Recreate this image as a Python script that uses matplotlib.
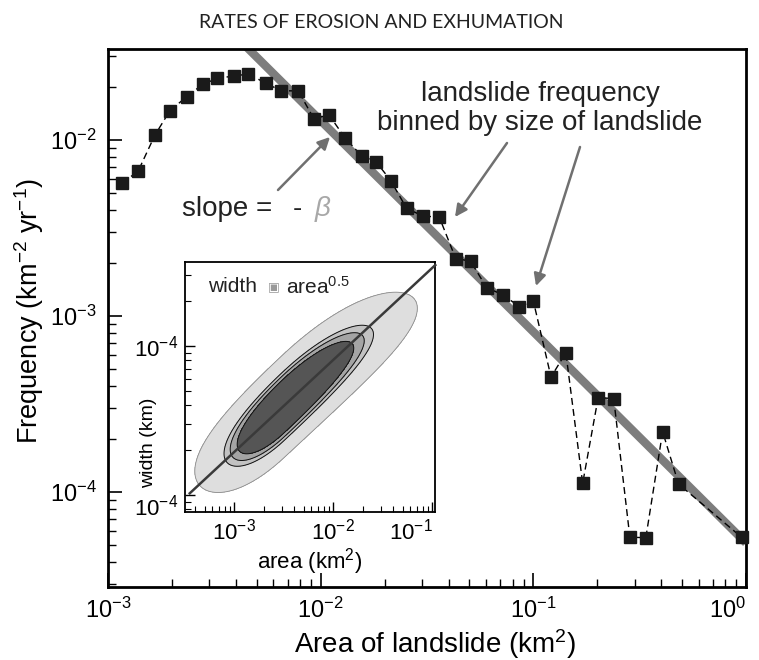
import numpy as np
import matplotlib
matplotlib.use("Agg")
from matplotlib import pyplot as plt
from matplotlib.ticker import FixedLocator, LogLocator, NullFormatter

plt.rcParams['font.family'] = ['Liberation Sans', 'DejaVu Sans']
plt.rcParams['mathtext.fontset'] = 'custom'
plt.rcParams['mathtext.rm'] = 'Liberation Sans'
plt.rcParams['mathtext.it'] = 'Liberation Sans:italic'
plt.rcParams['mathtext.bf'] = 'Liberation Sans:bold'

# landslide frequency binned by landslide area
area = [1.167e-3, 1.387e-3, 1.663e-3, 1.954e-3, 2.344e-3, 2.786e-3, 3.266e-3,
        3.908e-3, 4.571e-3, 5.534e-3, 6.501e-3, 7.852e-3, 9.290e-3, 1.094e-2,
        1.300e-2, 1.560e-2, 1.820e-2, 2.138e-2, 2.535e-2, 3.020e-2, 3.614e-2,
        4.315e-2, 5.070e-2, 6.026e-2, 7.228e-2, 8.590e-2, 0.1000, 0.1211,
        0.1422, 0.1706, 0.2018, 0.2388, 0.2844, 0.3381, 0.4055, 0.4819, 0.9528]
frequency = [5.68e-3, 6.67e-3, 1.067e-2, 1.466e-2, 1.762e-2, 2.07e-2, 2.24e-2,
             2.31e-2, 2.37e-2, 2.10e-2, 1.905e-2, 1.90e-2, 1.32e-2, 1.39e-2,
             1.03e-2, 8.11e-3, 7.53e-3, 5.87e-3, 4.09e-3, 3.70e-3, 3.64e-3,
             2.12e-3, 2.05e-3, 1.45e-3, 1.315e-3, 1.13e-3, 1.217e-3, 4.50e-4,
             6.18e-4, 1.12e-4, 3.44e-4, 3.39e-4, 5.53e-5, 5.50e-5, 2.20e-4,
             1.11e-4, 5.53e-5]

# power law fit  F = coef * A^-beta
fit_beta = 1.2
fit_coef = 5.13e-5
fit_area = [4.0e-3, 1.0]

# inset: width vs area, fitted line and density blob (log10 units)
inset_k = 0.617
inset_w0 = 1.38
blob_center = -2.5          # log10 area of blob centre
blob_bend_left = 0.145      # blob sits above the line at small areas
blob_bend_right = 0.098     # and below it at large areas
blob_sig_left = 0.40
blob_sig_right = 0.60
blob_sig_width = 0.155
blob_levels = [0.08, 0.32, 0.40, 0.50, 1.01]
blob_colors = ['#dedede', '#c2c2c2', '#a4a4a4', '#555555']

main_xticks = [1e-3, 1e-2, 1e-1, 1e0]
main_xlabels = ['$10^{-3}$', '$10^{-2}$', '$10^{-1}$', '$10^{0}$']
main_yticks = [1e-4, 1e-3, 1e-2]
main_ylabels = ['$10^{-4}$', '$10^{-3}$', '$10^{-2}$']
inset_xticks = [1e-3, 1e-2, 1e-1]
inset_xlabels = ['10$^{-3}$', '10$^{-2}$', '10$^{-1}$']
inset_yticks = [1e-2, 1e-1]
inset_ylabels = ['10$^{-4}$', '10$^{-4}$']

W, H = 759, 660
fig = plt.figure(figsize=(W / 100, H / 100), dpi=100)


def fx(px):
    return px / W


def fy(py):
    return 1 - py / H


ax = fig.add_axes([fx(108), fy(587), fx(746) - fx(108), fy(49) - fy(587)])
ax.set_xscale('log')
ax.set_yscale('log')
ax.set_xlim(1e-3, 1e0)
ax.set_ylim(10 ** -4.54, 10 ** -1.483)

fa = np.array(fit_area)
ax.plot(fa, fit_coef * fa ** -fit_beta, color='#7d7d7d', lw=6, solid_capstyle='butt', zorder=2)
ax.plot(area, frequency, color='black', lw=1.0, ls=(0, (5, 3)), zorder=3)
ax.plot(area, frequency, ls='none', marker='s', ms=8, color='#1a1a1a', zorder=4, clip_on=False)

for sp in ax.spines.values():
    sp.set_linewidth(2.0)
ax.tick_params(which='both', direction='in', top=False, right=False, labelsize=17)
ax.tick_params(which='major', length=10, width=1.2, pad=8)
ax.tick_params(which='minor', length=6, width=1.0)
ax.xaxis.set_major_locator(FixedLocator(main_xticks))
ax.set_xticklabels(main_xlabels)
ax.get_xticklabels()[-1].set_horizontalalignment('right')
ax.yaxis.set_major_locator(FixedLocator(main_yticks))
ax.set_yticklabels(main_ylabels)
ax.xaxis.set_minor_locator(LogLocator(base=10, subs=np.arange(2, 10)))
ax.yaxis.set_minor_locator(LogLocator(base=10, subs=np.arange(2, 10)))
ax.xaxis.set_minor_formatter(NullFormatter())
ax.yaxis.set_minor_formatter(NullFormatter())

ax.set_xlabel('Area of landslide (km$^{2}$)', fontsize=20)
ax.set_ylabel('Frequency (km$^{-2}$ yr$^{-1}$)', fontsize=19.5)
ax.xaxis.set_label_coords(0.513, -0.074)
ax.yaxis.set_label_coords(-0.097, 0.513)

# annotations
fig.text(fx(540), fy(101), 'landslide frequency', ha='center', va='baseline',
         fontsize=20, color='#222222')
fig.text(fx(540), fy(130), 'binned by size of landslide', ha='center', va='baseline',
         fontsize=20, color='#222222')
arrow = dict(arrowstyle='-|>', color='#707070', lw=1.8, mutation_scale=18, shrinkA=0, shrinkB=0)
ax.annotate('', xy=(fx(455), fy(217)), xytext=(fx(507), fy(143)),
            xycoords='figure fraction', textcoords='figure fraction', arrowprops=arrow)
ax.annotate('', xy=(fx(536), fy(286)), xytext=(fx(580), fy(147)),
            xycoords='figure fraction', textcoords='figure fraction', arrowprops=arrow)
ax.annotate('', xy=(fx(330), fy(137)), xytext=(fx(278), fy(190)),
            xycoords='figure fraction', textcoords='figure fraction', arrowprops=arrow)
fig.text(fx(182), fy(216), 'slope =', ha='left', va='baseline', fontsize=20, color='#222222')
fig.text(fx(293), fy(216), '-', ha='left', va='baseline', fontsize=20, color='#222222')
fig.text(fx(314), fy(216), r'$\beta$', ha='left', va='baseline', fontsize=20, color='#a8a8a8')

fig.text(fx(381), fy(22), 'RATES OF EROSION AND EXHUMATION', ha='center', va='center',
         fontsize=14, family=['Lato', 'DejaVu Sans'], color='#222222')

# inset
ins = fig.add_axes([fx(185), fy(512), fx(435) - fx(185), fy(262) - fy(512)])
ins.set_xscale('log')
ins.set_yscale('log')
ins.set_xlim(10 ** -3.498, 10 ** -0.973)
ins.set_ylim(10 ** -2.114, 10 ** -0.438)

la = np.linspace(-3.6, -0.8, 300)
lw_ = np.linspace(-2.3, -0.3, 300)
LA, LW = np.meshgrid(la, lw_)
s = LA - blob_center
line_w = np.log10(inset_w0) + inset_k * LA
bend = np.where(s < 0, blob_bend_left * s ** 2, -blob_bend_right * s ** 2)
t = LW - (line_w + bend)
sig_s = np.where(s < 0, blob_sig_left, blob_sig_right)
dens = np.exp(-0.5 * (s / sig_s) ** 2 - 0.5 * (t / blob_sig_width) ** 2)
ins.contourf(10 ** LA, 10 ** LW, dens, levels=blob_levels, colors=blob_colors, zorder=1)
ins.contour(10 ** LA, 10 ** LW, dens, levels=blob_levels[:1], colors='#8a8a8a', linewidths=0.6, zorder=2)
ins.contour(10 ** LA, 10 ** LW, dens, levels=blob_levels[1:4], colors='#111111', linewidths=0.7, zorder=2)

xa = np.array([10 ** -3.45, 10 ** -0.97])
ins.plot(xa, inset_w0 * xa ** inset_k, color='#3a3a3a', lw=1.8, zorder=3, clip_on=False)

for sp in ins.spines.values():
    sp.set_linewidth(1.3)
ins.tick_params(which='both', direction='in', top=False, right=False, labelsize=16)
ins.tick_params(which='major', length=7, width=1.0, pad=5)
ins.tick_params(which='minor', length=4, width=0.8)
ins.xaxis.set_major_locator(FixedLocator(inset_xticks))
ins.set_xticklabels(inset_xlabels)
ins.get_xticklabels()[-1].set_horizontalalignment('right')
ins.yaxis.set_major_locator(FixedLocator(inset_yticks))
ins.set_yticklabels(inset_ylabels)
ins.get_yticklabels()[0].set_verticalalignment('top')
ins.xaxis.set_minor_locator(LogLocator(base=10, subs=np.arange(2, 10)))
ins.yaxis.set_minor_locator(LogLocator(base=10, subs=np.arange(2, 10)))
ins.xaxis.set_minor_formatter(NullFormatter())
ins.yaxis.set_minor_formatter(NullFormatter())
ins.set_xlabel('area (km$^{2}$)', fontsize=16, labelpad=1)
ins.set_ylabel('width (km)', fontsize=14)
ins.yaxis.set_label_coords(-0.112, 0.276)
ins.text(0.092, 0.9, 'width', transform=ins.transAxes,
         ha='left', va='center', fontsize=15, color='#222222')
ins.text(0.33, 0.9, '\u25a3', transform=ins.transAxes,
         ha='left', va='center', fontsize=9, color='#9a9a9a')
ins.text(0.405, 0.9, 'area$^{0.5}$', transform=ins.transAxes,
         ha='left', va='center', fontsize=15, color='#222222')

fig.savefig('out.png', dpi=100)
